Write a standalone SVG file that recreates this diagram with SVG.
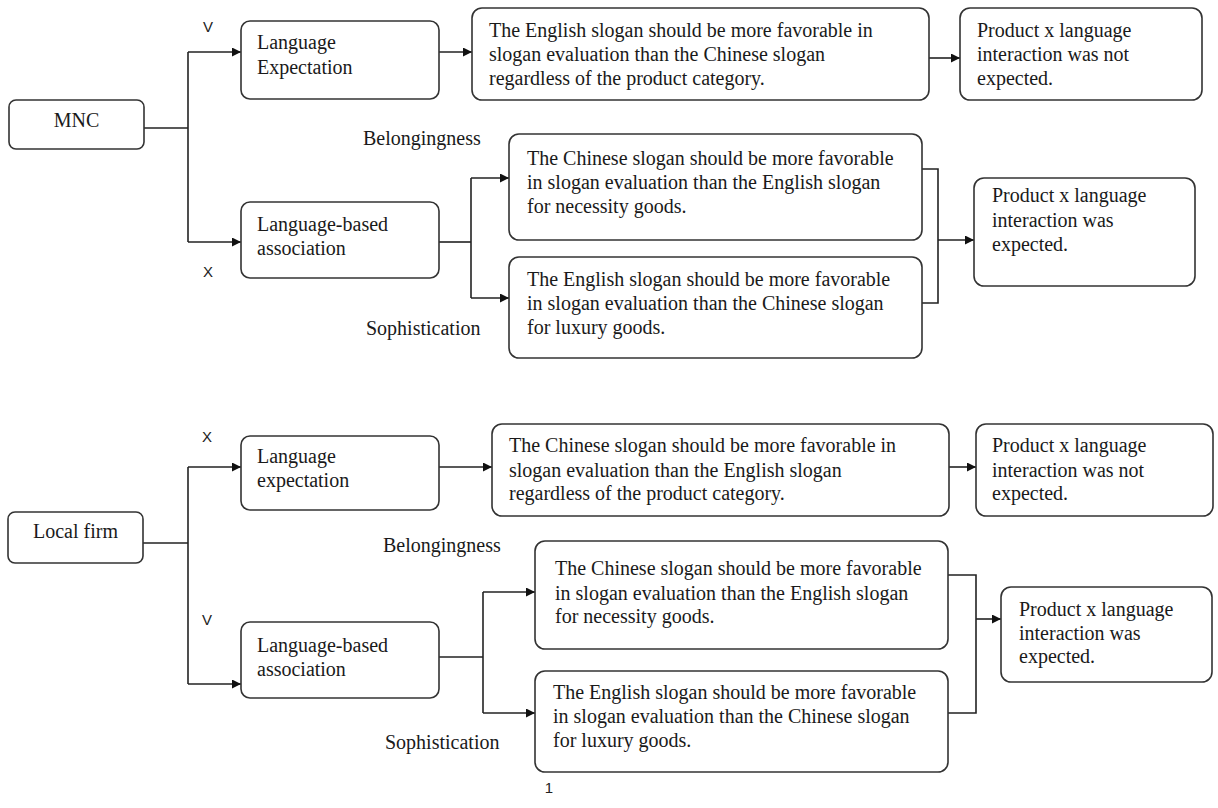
<svg xmlns="http://www.w3.org/2000/svg" width="1218" height="808" viewBox="0 0 1218 808">
<defs>
<marker id="ah" viewBox="0 0 10 10" refX="10" refY="5" markerWidth="10" markerHeight="9" markerUnits="userSpaceOnUse" orient="auto">
<path d="M0,0 L10,5 L0,10 z" fill="#111"/>
</marker>
<style>
.box{fill:#fff;stroke:#333;stroke-width:1.6}
.t{font-family:"Liberation Serif","Times New Roman",serif;font-size:20px;fill:#1a1a1a}
.s{font-family:"Liberation Sans",Arial,sans-serif;font-size:15px;fill:#222}
.c{fill:none;stroke:#222;stroke-width:1.6}
.a{fill:none;stroke:#222;stroke-width:1.6;marker-end:url(#ah)}
</style>
</defs>
<rect width="1218" height="808" fill="#fff"/>

<g id="connectors">
<polyline class="c" points="144,128 188,128"/>
<polyline class="c" points="188,52 188,242"/>
<line class="a" x1="188" y1="52" x2="241" y2="52"/>
<line class="a" x1="188" y1="242" x2="241" y2="242"/>
<line class="a" x1="439" y1="52" x2="472" y2="52"/>
<line class="a" x1="929" y1="58" x2="960" y2="58"/>
<polyline class="c" points="439,242 471,242"/>
<polyline class="c" points="471,178 471,298"/>
<line class="a" x1="471" y1="178" x2="509" y2="178"/>
<line class="a" x1="471" y1="298" x2="509" y2="298"/>
<polyline class="c" points="922,169 938,169 938,303 922,303"/>
<line class="a" x1="938" y1="240" x2="974" y2="240"/>
<polyline class="c" points="143,543 188,543"/>
<polyline class="c" points="188,467 188,684"/>
<line class="a" x1="188" y1="467" x2="241" y2="467"/>
<line class="a" x1="188" y1="684" x2="241" y2="684"/>
<line class="a" x1="439" y1="467" x2="492" y2="467"/>
<line class="a" x1="949" y1="467" x2="976" y2="467"/>
<polyline class="c" points="439,657 483,657"/>
<polyline class="c" points="483,592 483,713"/>
<line class="a" x1="483" y1="592" x2="535" y2="592"/>
<line class="a" x1="483" y1="713" x2="535" y2="713"/>
<polyline class="c" points="948,575 976,575 976,713 948,713"/>
<line class="a" x1="976" y1="619" x2="1001" y2="619"/>
</g>

<g id="label-v-top"><text class="s" x="208" y="32" text-anchor="middle">V</text></g>
<g id="label-x-top"><text class="s" x="208" y="277" text-anchor="middle">X</text></g>
<g id="label-belong-top"><text class="t" x="363" y="145">Belongingness</text></g>
<g id="label-soph-top"><text class="t" x="366" y="335">Sophistication</text></g>

<g id="mnc">
<rect class="box" x="9" y="100" width="135" height="49" rx="7"/>
<text class="t" x="76.5" y="127" text-anchor="middle">MNC</text>
</g>
<g id="lang-exp-top">
<rect class="box" x="241" y="21" width="198" height="78" rx="9"/>
<text class="t" x="257" y="49">Language</text>
<text class="t" x="257" y="74">Expectation</text>
</g>
<g id="slogan-top">
<rect class="box" x="472" y="8" width="457" height="92" rx="10"/>
<text class="t" x="489" y="37">The English slogan should be more favorable in</text>
<text class="t" x="489" y="61">slogan evaluation than the Chinese slogan</text>
<text class="t" x="489" y="85">regardless of the product category.</text>
</g>
<g id="result-top-1">
<rect class="box" x="960" y="8" width="242" height="92" rx="10"/>
<text class="t" x="977" y="37">Product x language</text>
<text class="t" x="977" y="61">interaction was not</text>
<text class="t" x="977" y="85">expected.</text>
</g>
<g id="lang-assoc-top">
<rect class="box" x="241" y="202" width="198" height="76" rx="9"/>
<text class="t" x="257" y="231">Language-based</text>
<text class="t" x="257" y="255">association</text>
</g>
<g id="necessity-top">
<rect class="box" x="509" y="134" width="413" height="106" rx="10"/>
<text class="t" x="527" y="165">The Chinese slogan should be more favorable</text>
<text class="t" x="527" y="189">in slogan evaluation than the English slogan</text>
<text class="t" x="527" y="213">for necessity goods.</text>
</g>
<g id="luxury-top">
<rect class="box" x="509" y="257" width="413" height="101" rx="10"/>
<text class="t" x="527" y="286">The English slogan should be more favorable</text>
<text class="t" x="527" y="310">in slogan evaluation than the Chinese slogan</text>
<text class="t" x="527" y="334">for luxury goods.</text>
</g>
<g id="result-top-2">
<rect class="box" x="974" y="178" width="221" height="108" rx="10"/>
<text class="t" x="992" y="202">Product x language</text>
<text class="t" x="992" y="227">interaction was</text>
<text class="t" x="992" y="251">expected.</text>
</g>

<g id="label-x-bottom"><text class="s" x="207" y="442" text-anchor="middle">X</text></g>
<g id="label-v-bottom"><text class="s" x="207" y="625" text-anchor="middle">V</text></g>
<g id="label-belong-bottom"><text class="t" x="383" y="552">Belongingness</text></g>
<g id="label-soph-bottom"><text class="t" x="385" y="749">Sophistication</text></g>

<g id="local-firm">
<rect class="box" x="8" y="512" width="135" height="51" rx="7"/>
<text class="t" x="75.5" y="538" text-anchor="middle">Local firm</text>
</g>
<g id="lang-exp-bottom">
<rect class="box" x="241" y="436" width="198" height="74" rx="9"/>
<text class="t" x="257" y="463">Language</text>
<text class="t" x="257" y="487">expectation</text>
</g>
<g id="slogan-bottom">
<rect class="box" x="492" y="424" width="457" height="92" rx="10"/>
<text class="t" x="509" y="452">The Chinese slogan should be more favorable in</text>
<text class="t" x="509" y="477">slogan evaluation than the English slogan</text>
<text class="t" x="509" y="500">regardless of the product category.</text>
</g>
<g id="result-bottom-1">
<rect class="box" x="976" y="424" width="237" height="92" rx="10"/>
<text class="t" x="992" y="452">Product x language</text>
<text class="t" x="992" y="477">interaction was not</text>
<text class="t" x="992" y="500">expected.</text>
</g>
<g id="lang-assoc-bottom">
<rect class="box" x="241" y="622" width="198" height="76" rx="9"/>
<text class="t" x="257" y="652">Language-based</text>
<text class="t" x="257" y="676">association</text>
</g>
<g id="necessity-bottom">
<rect class="box" x="535" y="541" width="413" height="108" rx="10"/>
<text class="t" x="555" y="575">The Chinese slogan should be more favorable</text>
<text class="t" x="555" y="600">in slogan evaluation than the English slogan</text>
<text class="t" x="555" y="623">for necessity goods.</text>
</g>
<g id="luxury-bottom">
<rect class="box" x="535" y="671" width="413" height="101" rx="10"/>
<text class="t" x="553" y="699">The English slogan should be more favorable</text>
<text class="t" x="553" y="723">in slogan evaluation than the Chinese slogan</text>
<text class="t" x="553" y="747">for luxury goods.</text>
</g>
<g id="result-bottom-2">
<rect class="box" x="1001" y="587" width="211" height="95" rx="10"/>
<text class="t" x="1019" y="616">Product x language</text>
<text class="t" x="1019" y="640">interaction was</text>
<text class="t" x="1019" y="663">expected.</text>
</g>

<g id="page-number"><text class="s" x="549" y="793" text-anchor="middle">1</text></g>
</svg>
